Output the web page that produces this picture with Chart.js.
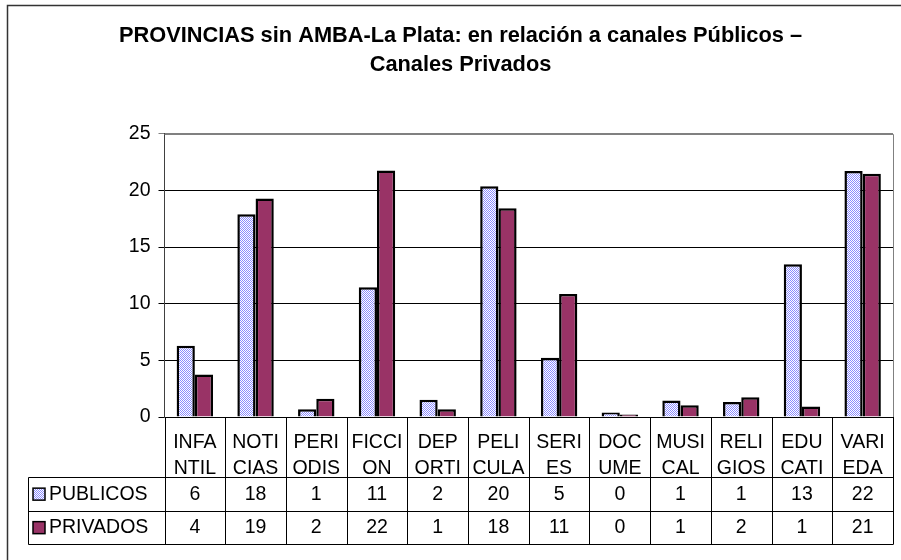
<!DOCTYPE html>
<html>
<head>
<meta charset="utf-8">
<script src="https://cdn.jsdelivr.net/npm/chart.js@4/dist/chart.umd.min.js"></script>
<style>
  html, body { margin: 0; padding: 0; background: #ffffff; }
  #wrap { width: 901px; height: 560px; }
</style>
</head>
<body>
<div id="wrap"><canvas id="c" width="901" height="560"></canvas></div>
<script>
// ---- data ----
const tituloLineas = ['PROVINCIAS sin AMBA-La Plata: en relación a canales Públicos –', 'Canales Privados'];
const categorias = [['INFA','NTIL'],['NOTI','CIAS'],['PERI','ODIS'],['FICCI','ON'],['DEP','ORTI'],['PELI','CULA'],['SERI','ES'],['DOC','UME'],['MUSI','CAL'],['RELI','GIOS'],['EDU','CATI'],['VARI','EDA']];
const nombresSeries = ['PUBLICOS', 'PRIVADOS'];
const publicos = [6.28, 17.9, 0.68, 11.45, 1.53, 20.37, 5.22, 0.39, 1.45, 1.33, 13.47, 21.7];
const privados = [3.75, 19.28, 1.62, 21.75, 0.68, 18.43, 10.85, 0.21, 1.03, 1.74, 0.92, 21.46];
const tablaPublicos = [6, 18, 1, 11, 2, 20, 5, 0, 1, 1, 13, 22];
const tablaPrivados = [4, 19, 2, 22, 1, 18, 11, 0, 1, 2, 1, 21];
const yTicks = [0, 5, 10, 15, 20, 25];

// ---- styles ----
const FONT = "'Liberation Sans', Arial, sans-serif";
const colorPrivados = '#993366';

function makeChecker() {
  const p = document.createElement('canvas');
  p.width = 2; p.height = 2;
  const g = p.getContext('2d');
  g.fillStyle = '#ffffff'; g.fillRect(0, 0, 2, 2);
  g.fillStyle = '#8c8cff'; g.fillRect(0, 0, 1, 1); g.fillRect(1, 1, 1, 1);
  return document.getElementById('c').getContext('2d').createPattern(p, 'repeat');
}
const checker = makeChecker();

const tablePlugin = {
  id: 'tablePlugin',
  beforeDraw(chart) {
    const ctx = chart.ctx;
    ctx.save();
    ctx.fillStyle = '#ffffff';
    ctx.fillRect(0, 0, chart.width, chart.height);
    // outer frame (top and left visible)
    ctx.strokeStyle = '#333333';
    ctx.lineWidth = 1.5;
    ctx.beginPath();
    ctx.moveTo(7.5, 560); ctx.lineTo(7.5, 5.5); ctx.lineTo(901, 5.5);
    ctx.stroke();
    ctx.restore();
  },
  afterDraw(chart) {
    const ctx = chart.ctx;
    const area = chart.chartArea;
    const xs = chart.scales.x;
    const n = categorias.length;
    const step = (area.right - area.left) / n;
    const row1 = 477.3, row2 = 511, row3 = 544.3, legLeft = 28.5;
    ctx.save();
    // plot border top/right
    ctx.strokeStyle = '#808080';
    ctx.lineWidth = 1;
    ctx.beginPath();
    ctx.moveTo(area.left, Math.round(area.top) + 0.5);
    ctx.lineTo(Math.round(area.right) + 0.5, Math.round(area.top) + 0.5);
    ctx.lineTo(Math.round(area.right) + 0.5, area.bottom);
    ctx.stroke();

    // table lines
    ctx.strokeStyle = '#000000';
    ctx.lineWidth = 1;
    ctx.beginPath();
    for (let i = 0; i <= n; i++) {
      const x = Math.round(xs.getPixelForValue(0) - step / 2 + i * step) + 0.5;
      ctx.moveTo(x, area.bottom); ctx.lineTo(x, row3);
    }
    [row1, row2, row3].forEach(y => {
      const yy = Math.round(y) + 0.5;
      ctx.moveTo(legLeft, yy); ctx.lineTo(Math.round(area.right) + 0.5, yy);
    });
    ctx.moveTo(legLeft, Math.round(row1) + 0.5); ctx.lineTo(legLeft, Math.round(row3) + 0.5);
    ctx.stroke();

    // values
    ctx.fillStyle = '#000000';
    ctx.font = '19.5px ' + FONT;
    ctx.textAlign = 'center';
    ctx.textBaseline = 'middle';
    const c1 = (row1 + row2) / 2, c2 = (row2 + row3) / 2;
    for (let i = 0; i < n; i++) {
      const x = xs.getPixelForValue(i);
      ctx.fillText(String(tablaPublicos[i]), x, c1);
      ctx.fillText(String(tablaPrivados[i]), x, c2);
    }
    // legend keys
    const fills = [checker, colorPrivados];
    [c1, c2].forEach((cy, k) => {
      ctx.fillStyle = fills[k];
      ctx.fillRect(33, cy - 6, 12, 12);
      ctx.strokeStyle = '#000000';
      ctx.lineWidth = 1.5;
      ctx.strokeRect(33, cy - 6, 12, 12);
      ctx.fillStyle = '#000000';
      ctx.textAlign = 'left';
      ctx.fillText(nombresSeries[k], 49, cy);
    });
    ctx.restore();
  }
};

new Chart(document.getElementById('c'), {
  type: 'bar',
  data: {
    labels: categorias,
    datasets: [
      { label: nombresSeries[0], data: publicos, backgroundColor: checker, borderColor: '#000000', borderWidth: 2.5 },
      { label: nombresSeries[1], data: privados, backgroundColor: colorPrivados, borderColor: '#000000', borderWidth: 2.5 }
    ]
  },
  options: {
    responsive: false,
    animation: false,
    devicePixelRatio: 1,
    layout: { padding: { left: 28, right: 8, top: 0, bottom: 0 } },
    datasets: { bar: { categoryPercentage: 0.6, barPercentage: 1.0 } },
    plugins: {
      legend: { display: false },
      tooltip: { enabled: false },
      title: {
        display: true,
        text: tituloLineas,
        color: '#000000',
        font: { family: FONT, size: 21.8, weight: 'bold', lineHeight: 1.3 },
        padding: { top: 22, bottom: 55 }
      }
    },
    scales: {
      x: {
        grid: { display: false },
        border: { display: false },
        ticks: {
          color: '#000000',
          font: { family: FONT, size: 19.5, lineHeight: 1.37 },
          padding: 4,
          maxRotation: 0,
          autoSkip: false
        },
        afterFit(scale) { scale.height = 143; }
      },
      y: {
        min: 0,
        max: 25,
        afterBuildTicks(scale) { scale.ticks = yTicks.map(v => ({ value: v })); },
        grid: {
          color: (c) => (c.tick && c.tick.value === 25) ? '#808080' : '#000000',
          lineWidth: 1,
          tickLength: 6,
          drawTicks: true
        },
        border: { display: true, color: '#404040', width: 1 },
        ticks: {
          color: '#000000',
          font: { family: FONT, size: 19.5 },
          padding: 8
        },
        afterFit(scale) { scale.width = 136.5; }
      }
    }
  },
  plugins: [tablePlugin]
});
</script>
</body>
</html>
